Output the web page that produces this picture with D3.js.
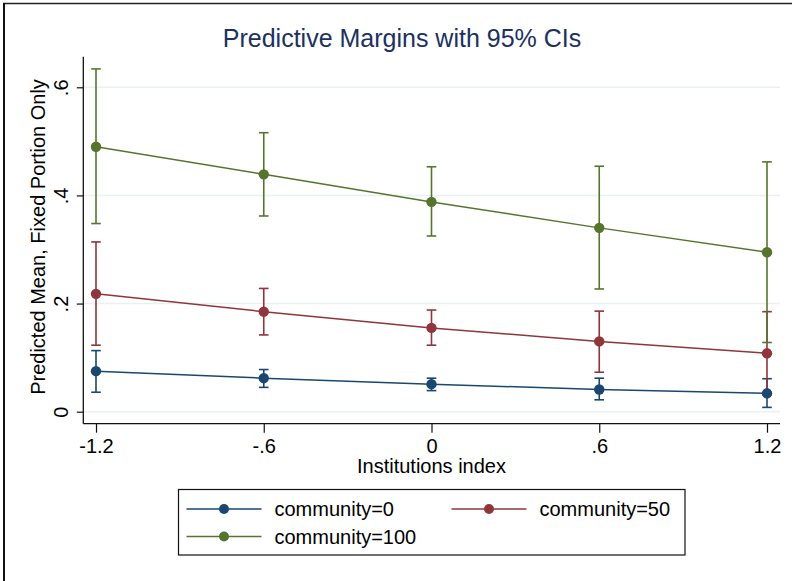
<!DOCTYPE html>
<html>
<head>
<meta charset="utf-8">
<script src="https://cdn.jsdelivr.net/npm/d3@7"></script>
<style>
  body { margin: 0; background: #fff; }
  text { font-family: "Liberation Sans", Arial, Helvetica, sans-serif; }
</style>
</head>
<body>
<div class="canvas"></div>
<script>
// values
const xValues = [-1.2, -0.6, 0, 0.6, 1.2]
const xTicks = [-1.2, -0.6, 0, 0.6, 1.2]
const xTickLabels = ['-1.2', '-.6', '0', '.6', '1.2']
const yTicks = [0, 0.2, 0.4, 0.6]
const yTickLabels = ['0', '.2', '.4', '.6']

const seriesNames = ['community=0', 'community=50', 'community=100']
const seriesColors = ['#1a476f', '#90353b', '#55752f']

const margin0 = [0.075, 0.062, 0.051, 0.041, 0.034]
const lower0 = [0.036, 0.045, 0.039, 0.022, 0.008]
const upper0 = [0.113, 0.078, 0.062, 0.062, 0.061]

const margin50 = [0.218, 0.185, 0.155, 0.130, 0.108]
const lower50 = [0.123, 0.142, 0.123, 0.073, 0.031]
const upper50 = [0.314, 0.228, 0.188, 0.186, 0.185]

const margin100 = [0.490, 0.439, 0.388, 0.340, 0.295]
const lower100 = [0.348, 0.362, 0.325, 0.227, 0.128]
const upper100 = [0.634, 0.516, 0.453, 0.454, 0.462]

const dims = {
  width: 792,
  height: 581
}

const plot = {
  left: 83.3,
  right: 780,
  top: 56.7,
  bottom: 423.7
}

const series = seriesNames.map((name, i) => ({
  name,
  color: seriesColors[i],
  points: xValues.map((x, j) => ({
    x,
    y: [margin0, margin50, margin100][i][j],
    lo: [lower0, lower50, lower100][i][j],
    hi: [upper0, upper50, upper100][i][j]
  }))
}))

const svg = d3.select('.canvas').append('svg')
  .attr('width', dims.width)
  .attr('height', dims.height)

// outer frame (only top and left edges are inside the picture)
svg.append('line')
  .attr('x1', 3)
  .attr('x2', dims.width)
  .attr('y1', 3.5)
  .attr('y2', 3.5)
  .attr('stroke', '#222')
  .attr('stroke-width', 1.6)

svg.append('line')
  .attr('x1', 4)
  .attr('x2', 4)
  .attr('y1', 3)
  .attr('y2', dims.height)
  .attr('stroke', '#111')
  .attr('stroke-width', 2)

const x = d3.scaleLinear()
  .domain([-1.2, 1.2])
  .range([96, 767])

const y = d3.scaleLinear()
  .domain([0, 0.6])
  .range([411.7, 87.3])

// gridlines
svg.append('g')
  .selectAll('line')
  .data(yTicks)
  .enter()
  .append('line')
  .attr('x1', plot.left)
  .attr('x2', plot.right)
  .attr('y1', d => y(d))
  .attr('y2', d => y(d))
  .attr('stroke', '#e9f1f2')
  .attr('stroke-width', 1.5)

// y axis
const yAxis = d3.axisLeft(y)
  .tickValues(yTicks)
  .tickFormat((d, i) => yTickLabels[i])
  .tickSize(6.5)
  .tickSizeOuter(0)

const yAxisGroup = svg.append('g')
  .attr('transform', `translate(${plot.left}, 0)`)
  .call(yAxis)

yAxisGroup.select('.domain').remove()
yAxisGroup.append('line')
  .attr('y1', plot.top)
  .attr('y2', plot.bottom)
  .attr('stroke', '#111')
  .attr('stroke-width', 1.3)

yAxisGroup.selectAll('.tick line')
  .attr('stroke', '#111')
  .attr('stroke-width', 1.2)

yAxisGroup.selectAll('.tick text')
  .attr('transform', 'rotate(-90)')
  .attr('x', 0)
  .attr('y', -15.5)
  .attr('dy', 0)
  .attr('text-anchor', 'middle')
  .attr('font-size', 20)
  .attr('fill', '#000')

// x axis
const xAxis = d3.axisBottom(x)
  .tickValues(xTicks)
  .tickFormat((d, i) => xTickLabels[i])
  .tickSize(9)
  .tickSizeOuter(0)

const xAxisGroup = svg.append('g')
  .attr('transform', `translate(0, ${plot.bottom})`)
  .call(xAxis)

xAxisGroup.select('.domain').remove()
xAxisGroup.append('line')
  .attr('x1', plot.left)
  .attr('x2', plot.right)
  .attr('stroke', '#111')
  .attr('stroke-width', 1.3)

xAxisGroup.selectAll('.tick line')
  .attr('stroke', '#111')
  .attr('stroke-width', 1.2)

xAxisGroup.selectAll('.tick text')
  .attr('y', 29)
  .attr('dy', 0)
  .attr('font-size', 20)
  .attr('fill', '#000')

// axis titles
svg.append('text')
  .attr('x', 431.5)
  .attr('y', 472.5)
  .attr('text-anchor', 'middle')
  .attr('font-size', 20)
  .text('Institutions index')

svg.append('text')
  .attr('transform', `translate(45, 237) rotate(-90)`)
  .attr('text-anchor', 'middle')
  .attr('font-size', 20)
  .text('Predicted Mean, Fixed Portion Only')

// title
svg.append('text')
  .attr('x', 402)
  .attr('y', 47)
  .attr('text-anchor', 'middle')
  .attr('font-size', 25)
  .attr('fill', '#1c3160')
  .text('Predictive Margins with 95% CIs')

// confidence intervals
const capHalf = 4.8
const ciGroups = svg.append('g')
  .selectAll('g')
  .data(series)
  .enter()
  .append('g')
  .attr('stroke', d => d.color)
  .attr('stroke-width', 1.6)

ciGroups.selectAll('line.ci')
  .data(d => d.points)
  .enter()
  .append('line')
  .attr('class', 'ci')
  .attr('x1', d => x(d.x))
  .attr('x2', d => x(d.x))
  .attr('y1', d => y(d.lo))
  .attr('y2', d => y(d.hi))

ciGroups.selectAll('line.cap-hi')
  .data(d => d.points)
  .enter()
  .append('line')
  .attr('class', 'cap-hi')
  .attr('x1', d => x(d.x) - capHalf)
  .attr('x2', d => x(d.x) + capHalf)
  .attr('y1', d => y(d.hi))
  .attr('y2', d => y(d.hi))

ciGroups.selectAll('line.cap-lo')
  .data(d => d.points)
  .enter()
  .append('line')
  .attr('class', 'cap-lo')
  .attr('x1', d => x(d.x) - capHalf)
  .attr('x2', d => x(d.x) + capHalf)
  .attr('y1', d => y(d.lo))
  .attr('y2', d => y(d.lo))

// connected lines with markers
const line = d3.line()
  .x(d => x(d.x))
  .y(d => y(d.y))

const lineGroups = svg.append('g')
  .selectAll('g')
  .data(series)
  .enter()
  .append('g')

lineGroups.append('path')
  .attr('d', d => line(d.points))
  .attr('fill', 'none')
  .attr('stroke', d => d.color)
  .attr('stroke-width', 1.5)

lineGroups.each(function (s) {
  d3.select(this).selectAll('circle')
    .data(s.points)
    .enter()
    .append('circle')
    .attr('cx', d => x(d.x))
    .attr('cy', d => y(d.y))
    .attr('r', 5.2)
    .attr('fill', s.color)
})

// legend
const legend = svg.append('g')

legend.append('rect')
  .attr('x', 178.5)
  .attr('y', 489.5)
  .attr('width', 506.5)
  .attr('height', 65.5)
  .attr('fill', '#fff')
  .attr('stroke', '#111')
  .attr('stroke-width', 1.2)

const legendPos = [
  { lx: 186.5, ly: 509 },
  { lx: 451.5, ly: 509 },
  { lx: 186.5, ly: 536.5 }
]

const items = legend.selectAll('g.item')
  .data(series)
  .enter()
  .append('g')
  .attr('class', 'item')
  .attr('transform', (d, i) => `translate(${legendPos[i].lx}, ${legendPos[i].ly})`)

items.append('line')
  .attr('x1', 0)
  .attr('x2', 75)
  .attr('stroke', d => d.color)
  .attr('stroke-width', 1.5)

items.append('circle')
  .attr('cx', 37.5)
  .attr('r', 5)
  .attr('fill', d => d.color)

items.append('text')
  .attr('x', 88)
  .attr('y', 7)
  .attr('font-size', 20)
  .text(d => d.name)
</script>
</body>
</html>
